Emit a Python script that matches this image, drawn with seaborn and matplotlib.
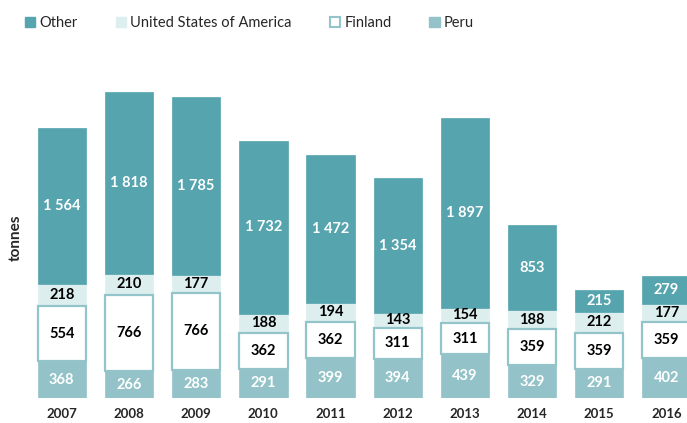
import numpy as np
import pandas as pd
import matplotlib
matplotlib.use("Agg")
import matplotlib.pyplot as plt
import seaborn as sns
from matplotlib.patches import Patch

years = ["2007", "2008", "2009", "2010", "2011", "2012", "2013", "2014", "2015", "2016"]
peru = [368, 266, 283, 291, 399, 394, 439, 329, 291, 402]
finland = [554, 766, 766, 362, 362, 311, 311, 359, 359, 359]
usa = [218, 210, 177, 188, 194, 143, 154, 188, 212, 177]
other = [1564, 1818, 1785, 1732, 1472, 1354, 1897, 853, 215, 279]

sns.set_theme(style="white")
plt.rcParams["font.family"] = ["Lato", "DejaVu Sans"]

C_OTHER = "#56A4AE"
C_USA = "#DDEEEF"
C_FIN_EDGE = "#93C4C9"
C_PERU = "#93C3C8"

df = pd.DataFrame({"year": years, "Peru": peru, "Finland": finland,
                   "United States of America": usa, "Other": other})

fig = plt.figure(figsize=(6.87, 4.23), dpi=100)
ax = fig.add_axes([0.041, 0.059, 0.978, 0.7565])

# name, face, edge, linewidth, text colour, zorder
layers = [
    ("Peru", C_PERU, C_PERU, 0.5, "white", 2),
    ("Finland", "white", C_FIN_EDGE, 1.6, "black", 3),
    ("United States of America", C_USA, C_USA, 0.5, "black", 2),
    ("Other", C_OTHER, C_OTHER, 0.5, "white", 2),
]

bottom = np.zeros(len(years))
for name, fc, ec, lw, tc, z in layers:
    sns.barplot(data=df, x="year", y=name, order=years, color=fc, saturation=1,
                width=0.72, bottom=bottom, edgecolor=ec, linewidth=lw,
                zorder=z, ax=ax)
    cont = ax.containers[-1]
    labels = [f"{v:,}".replace(",", " ") for v in df[name]]
    ax.bar_label(cont, labels=labels, label_type="center", color=tc,
                 fontsize=10.5, fontweight="bold", zorder=5)
    bottom = bottom + df[name].to_numpy()

ax.set_xlim(-0.5, 9.5)
ax.set_ylim(0, 3200)
ax.set_yticks([])
ax.set_xlabel("")
ax.set_ylabel("tonnes", fontsize=11, fontweight="bold", labelpad=4)
ax.tick_params(axis="x", length=0, pad=7, labelsize=9.5)
for lab in ax.get_xticklabels():
    lab.set_fontweight("bold")
sns.despine(ax=ax, left=True, bottom=True)

handles = [
    Patch(facecolor=C_OTHER, edgecolor=C_OTHER, label="Other"),
    Patch(facecolor=C_USA, edgecolor=C_USA, label="United States of America"),
    Patch(facecolor="white", edgecolor=C_FIN_EDGE, linewidth=1.5, label="Finland"),
    Patch(facecolor=C_PERU, edgecolor=C_PERU, label="Peru"),
]
fig.legend(handles=handles, loc="upper left", bbox_to_anchor=(0.017, 0.993), ncol=4,
           frameon=False, fontsize=10.5, handlelength=0.7, handleheight=0.7,
           handletextpad=0.3, columnspacing=2.6)

fig.savefig("out.png", dpi=100)
